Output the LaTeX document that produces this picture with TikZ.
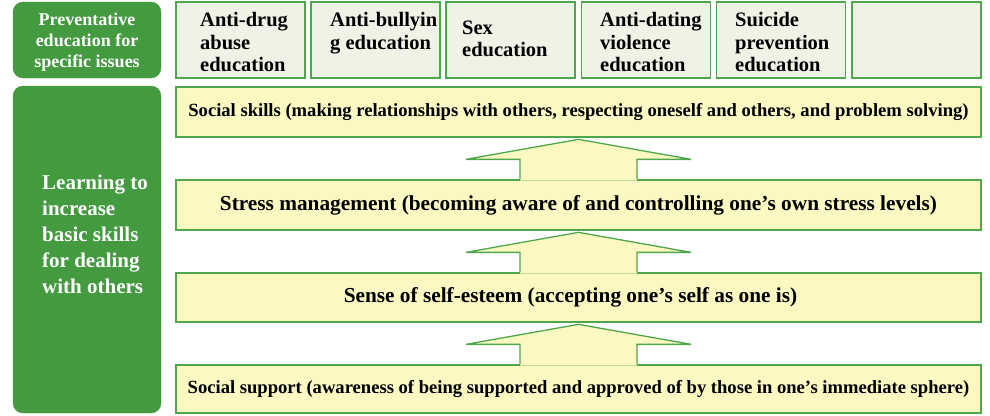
\documentclass[tikz,border=0pt]{standalone}
\usepackage{fontspec}
\setmainfont{Liberation Serif}
\usetikzlibrary{calc}
\definecolor{dgreen}{HTML}{439A3F}
\definecolor{bgreen}{HTML}{4EA84B}
\definecolor{yel}{HTML}{FBF8C2}
\definecolor{pale}{HTML}{EFF3E6}
\tikzset{
  greenbox/.style={draw=dgreen, fill=dgreen, rounded corners=10pt, inner sep=0pt, text=white},
  issuebox/.style={draw=bgreen, fill=pale, line width=1.5pt, minimum width=129pt, minimum height=76pt, inner sep=0pt},
  issuetext/.style={anchor=north west, align=left, inner sep=0pt, font=\fontsize{20.5}{22.5}\selectfont\bfseries},
  skillbox/.style={draw=bgreen, fill=yel, line width=1.3pt, minimum width=805pt, inner sep=0pt},
  smalltxt/.style={font=\fontsize{18.6}{20}\selectfont\bfseries},
  bigtxt/.style={font=\fontsize{21.3}{23}\selectfont\bfseries},
  arrowline/.style={draw=bgreen, line width=1.3pt, line join=miter},
}
\newcommand\blockarrow[1]{%
  \fill[yel] ($(#1.north)+(-58.5,1.2)$) -- ($(#1.north)+(-58.5,-20)$) -- ($(#1.north)+(-112.5,-20)$)
     -- ($(#1.north)+(0,-40)$) -- ($(#1.north)+(112.5,-20)$) -- ($(#1.north)+(58.5,-20)$)
     -- ($(#1.north)+(58.5,1.2)$) -- cycle;
  \draw[arrowline] ($(#1.north)+(-58.5,0)$) -- ($(#1.north)+(-58.5,-20)$) -- ($(#1.north)+(-112.5,-20)$)
     -- ($(#1.north)+(0,-40)$) -- ($(#1.north)+(112.5,-20)$) -- ($(#1.north)+(58.5,-20)$)
     -- ($(#1.north)+(58.5,0)$);
}
\begin{document}
\begin{tikzpicture}[x=1pt,y=-1pt]
\fill[white] (0,0) rectangle (990,415);
\useasboundingbox (0,0) rectangle (990,415);

% left green boxes
\node[greenbox, minimum width=148pt, minimum height=76pt] (prev) at (87,40) {};
\node[align=center, inner sep=0pt, text=white,
      font=\fontsize{18}{21}\selectfont\bfseries] (prevtxt) at (87,42.5)
      {Preventative\\education for\\specific issues};
\node[greenbox, minimum width=148pt, minimum height=327pt] (learn) at (87,249.5) {};
\node[anchor=west, align=left, inner sep=0pt, text=white,
      font=\fontsize{21}{26}\selectfont\bfseries] (learntxt) at (42,234.5)
      {Learning to\\increase\\basic skills\\for dealing\\with others};

% issue boxes
\node[issuebox] (i1) at (240.5,40) {};
\node[issuebox] (i2) at (375.5,40) {};
\node[issuebox] (i3) at (510.5,40) {};
\node[issuebox] (i4) at (646,40) {};
\node[issuebox] (i5) at (781,40) {};
\node[issuebox] (i6) at (916.5,40) {};
\node[issuetext] (t1) at (200,12.5) {Anti-drug\\abuse\\education};
\node[issuetext] (t2) at (330,12.5) {Anti-bullyin\\g education};
\node[issuetext] (t3) at (462,20.5) {Sex\\education};
\node[issuetext] (t4) at (600,12.5) {Anti-dating\\violence\\education};
\node[issuetext] (t5) at (735,12.5) {Suicide\\prevention\\education};

% skill boxes
\node[skillbox, minimum height=50pt, smalltxt] (A) at (578.5,112)
  {Social skills (making relationships with others, respecting oneself and others, and problem solving)};
\node[skillbox, minimum height=50pt, bigtxt] (B) at (578.5,205)
  {Stress management (becoming aware of and controlling one’s own stress levels)};
\node[skillbox, minimum height=49pt, bigtxt] (C) at (578.5,297.5)
  {Sense of self-esteem (accepting one’s self as one is)\hspace*{16pt}};
\node[skillbox, minimum height=48pt, smalltxt] (D) at (578.5,389)
  {Social support (awareness of being supported and approved of by those in one’s immediate sphere)};

% arrows
\blockarrow{B}
\blockarrow{C}
\blockarrow{D}
\end{tikzpicture}
\end{document}
